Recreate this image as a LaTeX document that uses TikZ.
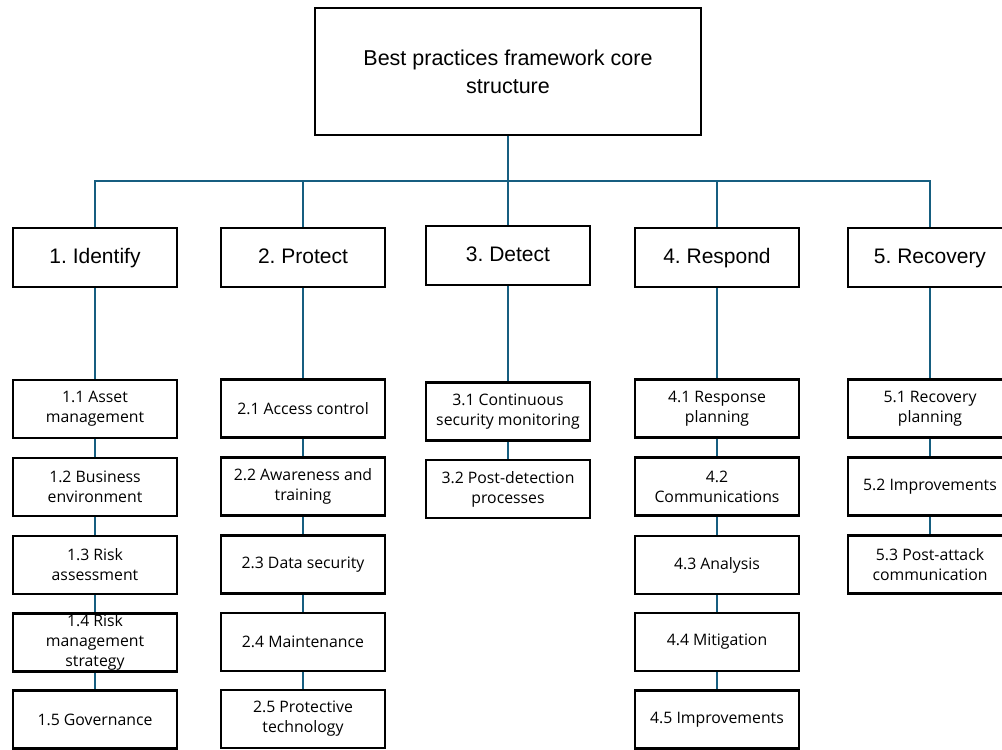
\documentclass[tikz,border=0pt]{standalone}
\usepackage{fontspec}
\setmainfont{Open Sans}
\newfontfamily\headfont{Liberation Sans}
\frenchspacing
\definecolor{conn}{RGB}{22,94,128}
\tikzset{
  x=1pt, y=-1pt,
  topbox/.style={draw=black, line width=2.2pt, fill=white, minimum width=386pt, minimum height=127pt, inner sep=0pt, align=center, font=\headfont\fontsize{21.5}{28}\selectfont},
  catbox/.style={draw=black, line width=2.2pt, fill=white, minimum width=164pt, minimum height=59pt, inner sep=0pt, align=center, text height=15pt, text depth=4pt, font=\headfont\fontsize{21}{24}\selectfont},
  subbox/.style={draw=black, line width=2.2pt, fill=white, minimum width=164pt, minimum height=58pt, inner sep=0pt, align=center, font=\fontsize{15.8}{20}\selectfont},
  link/.style={draw=conn, line width=2pt}
}
\begin{document}
\begin{tikzpicture}
\useasboundingbox (0,0) rectangle (1002,750);
\fill[white] (0,0) rectangle (1002,750);

\coordinate (bus) at (508,181);

\node[topbox] (top) at (508,71.5) {Best practices framework core\\structure};

\node[catbox] (c1) at (95,257.5) {1. Identify};
\node[catbox] (c2) at (303,257.5) {2. Protect};
\node[catbox] (c3) at (508,255.5) {3. Detect};
\node[catbox] (c4) at (717,257.5) {4. Respond};
\node[catbox] (c5) at (930,257.5) {5. Recovery};

% column 1
\node[subbox] (s11) at (95,409) {1.1 Asset\\management};
\node[subbox] (s12) at (95,487) {1.2 Business\\environment};
\node[subbox] (s13) at (95,565) {1.3 Risk\\assessment};
\node[subbox] (s14) at (95,642.5) {1.4 Risk\\management\\strategy};
\node[subbox] (s15) at (95,719.5) {1.5 Governance};
% column 2
\node[subbox] (s21) at (303,408.5) {2.1 Access control};
\node[subbox] (s22) at (303,486.5) {2.2 Awareness and\\training};
\node[subbox] (s23) at (303,564.5) {2.3 Data security};
\node[subbox] (s24) at (303,642) {2.4 Maintenance};
\node[subbox] (s25) at (303,719) {2.5 Protective\\technology};
% column 3
\node[subbox] (s31) at (508,411.5) {3.1 Continuous\\security monitoring};
\node[subbox] (s32) at (508,489) {3.2 Post-detection\\processes};
% column 4
\node[subbox] (s41) at (717,408.5) {4.1 Response\\planning};
\node[subbox] (s42) at (717,486.5) {4.2\\Communications};
\node[subbox] (s43) at (717,565) {4.3 Analysis};
\node[subbox] (s44) at (717,642) {4.4 Mitigation};
\node[subbox] (s45) at (717,719.5) {4.5 Improvements};
% column 5
\node[subbox] (s51) at (930,408.5) {5.1 Recovery\\planning};
\node[subbox] (s52) at (930,486.5) {5.2 Improvements};
\node[subbox] (s53) at (930,564.5) {5.3 Post-attack\\communication};

% connectors
\draw[link] (top.south) -- (bus);
\foreach \c in {c1,c2,c3,c4,c5} {
  \draw[link] (\c.north) |- (bus);
}
\draw[link] (c1.south) -- (s11.north);
\draw[link] (s11.south) -- (s12.north);
\draw[link] (s12.south) -- (s13.north);
\draw[link] (s13.south) -- (s14.north);
\draw[link] (s14.south) -- (s15.north);

\draw[link] (c2.south) -- (s21.north);
\draw[link] (s21.south) -- (s22.north);
\draw[link] (s22.south) -- (s23.north);
\draw[link] (s23.south) -- (s24.north);
\draw[link] (s24.south) -- (s25.north);

\draw[link] (c3.south) -- (s31.north);
\draw[link] (s31.south) -- (s32.north);

\draw[link] (c4.south) -- (s41.north);
\draw[link] (s41.south) -- (s42.north);
\draw[link] (s42.south) -- (s43.north);
\draw[link] (s43.south) -- (s44.north);
\draw[link] (s44.south) -- (s45.north);

\draw[link] (c5.south) -- (s51.north);
\draw[link] (s51.south) -- (s52.north);
\draw[link] (s52.south) -- (s53.north);
\end{tikzpicture}
\end{document}
